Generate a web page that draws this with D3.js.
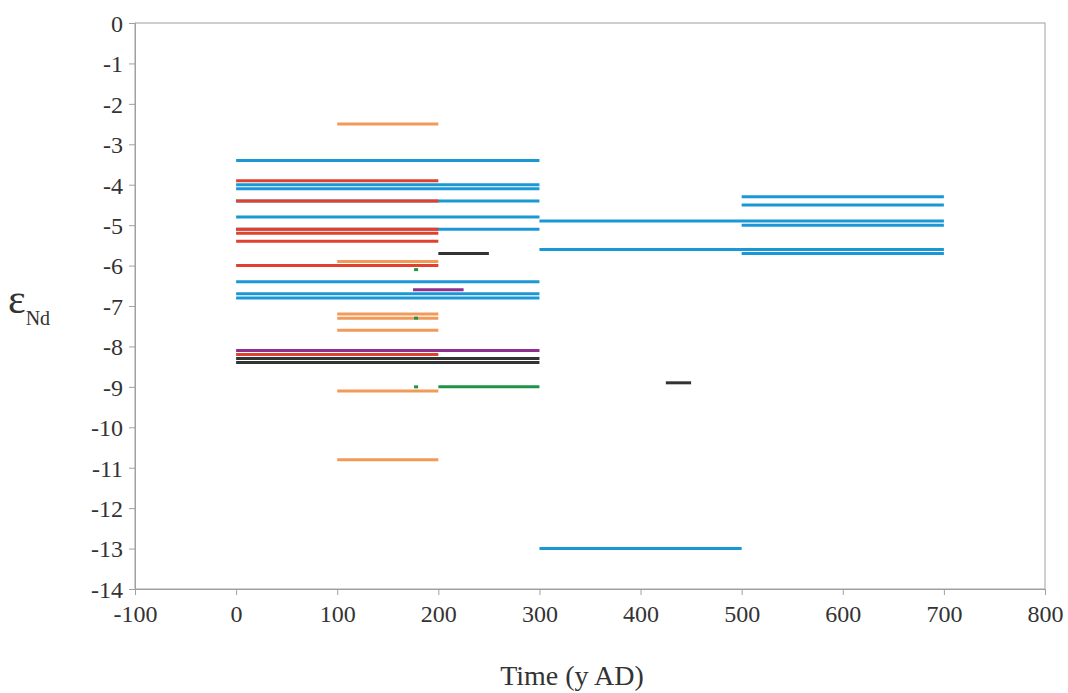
<!DOCTYPE html>
<html>
<head>
<meta charset="utf-8">
<script src="https://cdn.jsdelivr.net/npm/d3@7"></script>
<style>
  html, body { margin: 0; padding: 0; background: #fff; }
  svg { display: block; font-family: "Liberation Serif", "Times New Roman", serif; }
</style>
</head>
<body>
<svg id="chart" width="1068" height="693"></svg>
<script>
// Each segment: [startYear, endYear, epsilonNd]
const blueSegments = [
  [0, 300, -3.4], [0, 300, -4.0], [0, 300, -4.1], [0, 300, -4.4], [0, 300, -4.8],
  [0, 300, -5.1], [0, 300, -6.4], [0, 300, -6.7], [0, 300, -6.8],
  [300, 700, -4.9], [300, 700, -5.6],
  [500, 700, -4.3], [500, 700, -4.5], [500, 700, -5.0], [500, 700, -5.7],
  [300, 500, -13.0]
];
const redSegments = [
  [0, 200, -3.9], [0, 200, -4.4], [0, 200, -5.1], [0, 200, -5.2],
  [0, 200, -5.4], [0, 200, -6.0], [0, 200, -8.2]
];
const orangeSegments = [
  [100, 200, -2.5], [100, 200, -5.9], [100, 200, -7.2], [100, 200, -7.3],
  [100, 200, -7.6], [100, 200, -9.1], [100, 200, -10.8]
];
const purpleSegments = [
  [175, 225, -6.6], [0, 300, -8.1]
];
const blackSegments = [
  [200, 250, -5.7], [0, 300, -8.3], [0, 300, -8.4], [425, 450, -8.9]
];
const greenSegments = [
  [176, 180, -6.1], [176, 180, -7.3], [176, 180, -9.0], [200, 300, -9.0]
];

const xTicks = [-100, 0, 100, 200, 300, 400, 500, 600, 700, 800];
const yTicks = [0, -1, -2, -3, -4, -5, -6, -7, -8, -9, -10, -11, -12, -13, -14];

const groups = [
  { data: blueSegments,   color: "#1a98d5" },
  { data: redSegments,    color: "#e0402e" },
  { data: orangeSegments, color: "#f39a58" },
  { data: purpleSegments, color: "#8c2f8e" },
  { data: blackSegments,  color: "#333333" },
  { data: greenSegments,  color: "#1f9447" }
];

const W = 1068, H = 693;
const margin = { left: 135, right: 23, top: 23, bottom: 104 };
const svg = d3.select("#chart");
const serif = "Liberation Serif, Times New Roman, serif";

const x = d3.scaleLinear().domain([-100, 800]).range([margin.left, W - margin.right]);
const y = d3.scaleLinear().domain([-14, 0]).range([H - margin.bottom, margin.top]);

const axisColor = "#a0a0a0";
const textColor = "#333333";

// Frame (top and right border)
svg.append("rect")
  .attr("x", x(-100)).attr("y", y(0))
  .attr("width", x(800) - x(-100)).attr("height", y(-14) - y(0))
  .attr("fill", "none").attr("stroke", axisColor).attr("stroke-width", 1);

const fmt = d => String(d);

// Axes
const xAxis = svg.append("g")
  .attr("transform", `translate(0,${y(-14)})`)
  .call(d3.axisBottom(x).tickValues(xTicks).tickFormat(fmt).tickSizeOuter(0).tickSize(6).tickPadding(8));
const yAxis = svg.append("g")
  .attr("transform", `translate(${x(-100)},0)`)
  .call(d3.axisLeft(y).tickValues(yTicks).tickFormat(fmt).tickSizeOuter(0).tickSize(6).tickPadding(6));

[xAxis, yAxis].forEach(g => {
  g.attr("font-family", serif).attr("font-size", 24);
  g.select(".domain").attr("stroke", axisColor);
  g.selectAll(".tick line").attr("stroke", axisColor);
  g.selectAll(".tick text").attr("fill", textColor);
});
xAxis.selectAll(".tick text").attr("dy", "0.8em");
yAxis.selectAll(".tick text").attr("dy", "0.35em");

// Segments
groups.forEach(grp => {
  svg.append("g")
    .selectAll("line")
    .data(grp.data)
    .join("line")
    .attr("x1", d => x(d[0]))
    .attr("x2", d => x(d[1]))
    .attr("y1", d => y(d[2]))
    .attr("y2", d => y(d[2]))
    .attr("stroke", grp.color)
    .attr("stroke-width", 3);
});

// Axis titles
svg.append("text")
  .attr("x", 572).attr("y", 685)
  .attr("text-anchor", "middle")
  .attr("fill", textColor)
  .attr("font-family", serif)
  .attr("font-size", 28)
  .text("Time (y AD)");

const yl = svg.append("text")
  .attr("x", 8).attr("y", 313)
  .attr("fill", textColor)
  .attr("font-family", serif);
yl.append("tspan").attr("font-size", 42).text("ε");
yl.append("tspan").attr("dy", 12).attr("font-size", 20).text("Nd");
</script>
</body>
</html>
